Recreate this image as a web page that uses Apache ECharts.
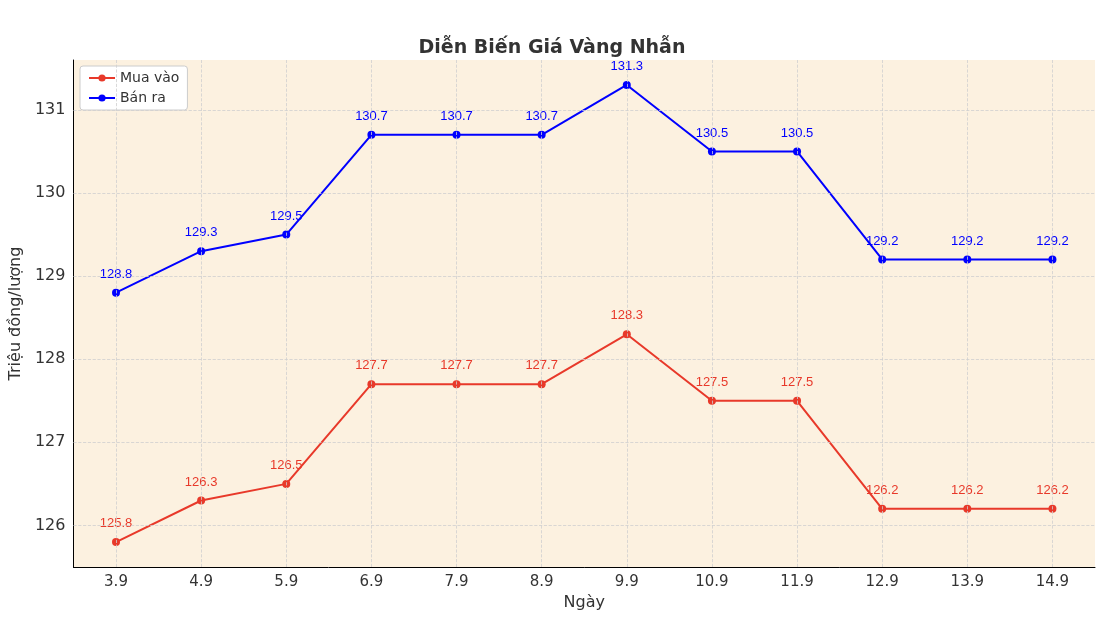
<!DOCTYPE html>
<html lang="vi">
<head>
    <meta charset="UTF-8">
    <title>Diễn Biến Giá Vàng Nhẫn</title>
    <script src="https://cdn.jsdelivr.net/npm/echarts@6.0.0/dist/echarts.min.js"></script>
    <style>
        body { margin: 0; background: #fff; }
    </style>
</head>
<body>
    <div id="chart" style="width: 1104px; height: 634px;"></div>
    <script>
        const days = ['3.9', '4.9', '5.9', '6.9', '7.9', '8.9', '9.9', '10.9', '11.9', '12.9', '13.9', '14.9'];
        const muaVao = [125.8, 126.3, 126.5, 127.7, 127.7, 127.7, 128.3, 127.5, 127.5, 126.2, 126.2, 126.2];
        const banRa = [128.8, 129.3, 129.5, 130.7, 130.7, 130.7, 131.3, 130.5, 130.5, 129.2, 129.2, 129.2];
        const yTicks = [126, 127, 128, 129, 130, 131];

        const gridStyle = { color: '#cfcfcf', type: 'dashed', width: 0.8 };
        // grid lines drawn as mark lines so they sit on the integer ticks
        const gridLines = yTicks.map(v => ({ yAxis: v })).concat(days.map(d => ({ xAxis: d })));

        const myChart = echarts.init(document.getElementById('chart'));
        const option = {
            backgroundColor: '#fff',
            title: {
                text: 'Diễn Biến Giá Vàng Nhẫn',
                left: 'center',
                top: 34,
                textStyle: { fontSize: 19, fontWeight: 'bold', color: '#333', fontFamily: 'DejaVu Sans' }
            },
            legend: {
                left: 80, top: 66, orient: 'vertical', itemGap: 6,
                backgroundColor: '#fff', borderColor: '#ccc', borderWidth: 1, borderRadius: 3,
                padding: [5, 8],
                itemWidth: 26, itemHeight: 9,
                textStyle: { fontSize: 14, color: '#333', fontFamily: 'DejaVu Sans' }
            },
            grid: { left: 72, right: 9, top: 60, bottom: 67, show: true, backgroundColor: '#fcf1e0', borderWidth: 0 },
            xAxis: {
                type: 'category', data: days, boundaryGap: true,
                name: 'Ngày', nameLocation: 'middle', nameGap: 28,
                nameTextStyle: { fontSize: 16, color: '#333', fontFamily: 'DejaVu Sans' },
                axisLine: { lineStyle: { color: '#000' } },
                axisTick: { alignWithLabel: true, lineStyle: { color: '#000' } },
                axisLabel: { fontSize: 15, color: '#333', fontFamily: 'DejaVu Sans' },
                splitLine: { show: false }
            },
            yAxis: {
                type: 'value', min: 125.5, max: 131.6, interval: 0.5,
                name: 'Triệu đồng/lượng', nameLocation: 'middle', nameGap: 48,
                nameTextStyle: { fontSize: 16, color: '#333', fontFamily: 'DejaVu Sans' },
                axisLine: { show: true, lineStyle: { color: '#000' } },
                axisTick: { show: false },
                axisLabel: {
                    fontSize: 16, color: '#333', fontFamily: 'DejaVu Sans',
                    formatter: v => (Math.abs(v - Math.round(v)) < 1e-6 ? String(Math.round(v)) : '')
                },
                splitLine: { show: false }
            },
            series: [
                {
                    name: 'Mua vào', type: 'line', data: muaVao,
                    color: '#e8392a', symbol: 'circle', symbolSize: 8,
                    lineStyle: { width: 2 },
                    label: { show: true, position: 'top', distance: 8, color: '#e8392a', fontSize: 13 },
                    markLine: { silent: true, symbol: 'none', label: { show: false }, lineStyle: gridStyle, data: gridLines },
                    z: 3
                },
                {
                    name: 'Bán ra', type: 'line', data: banRa,
                    color: '#0000ff', symbol: 'circle', symbolSize: 8,
                    lineStyle: { width: 2 },
                    label: { show: true, position: 'top', distance: 8, color: '#0000ff', fontSize: 13 },
                    z: 3
                }
            ]
        };
        myChart.setOption(option);
    </script>
</body>
</html>
